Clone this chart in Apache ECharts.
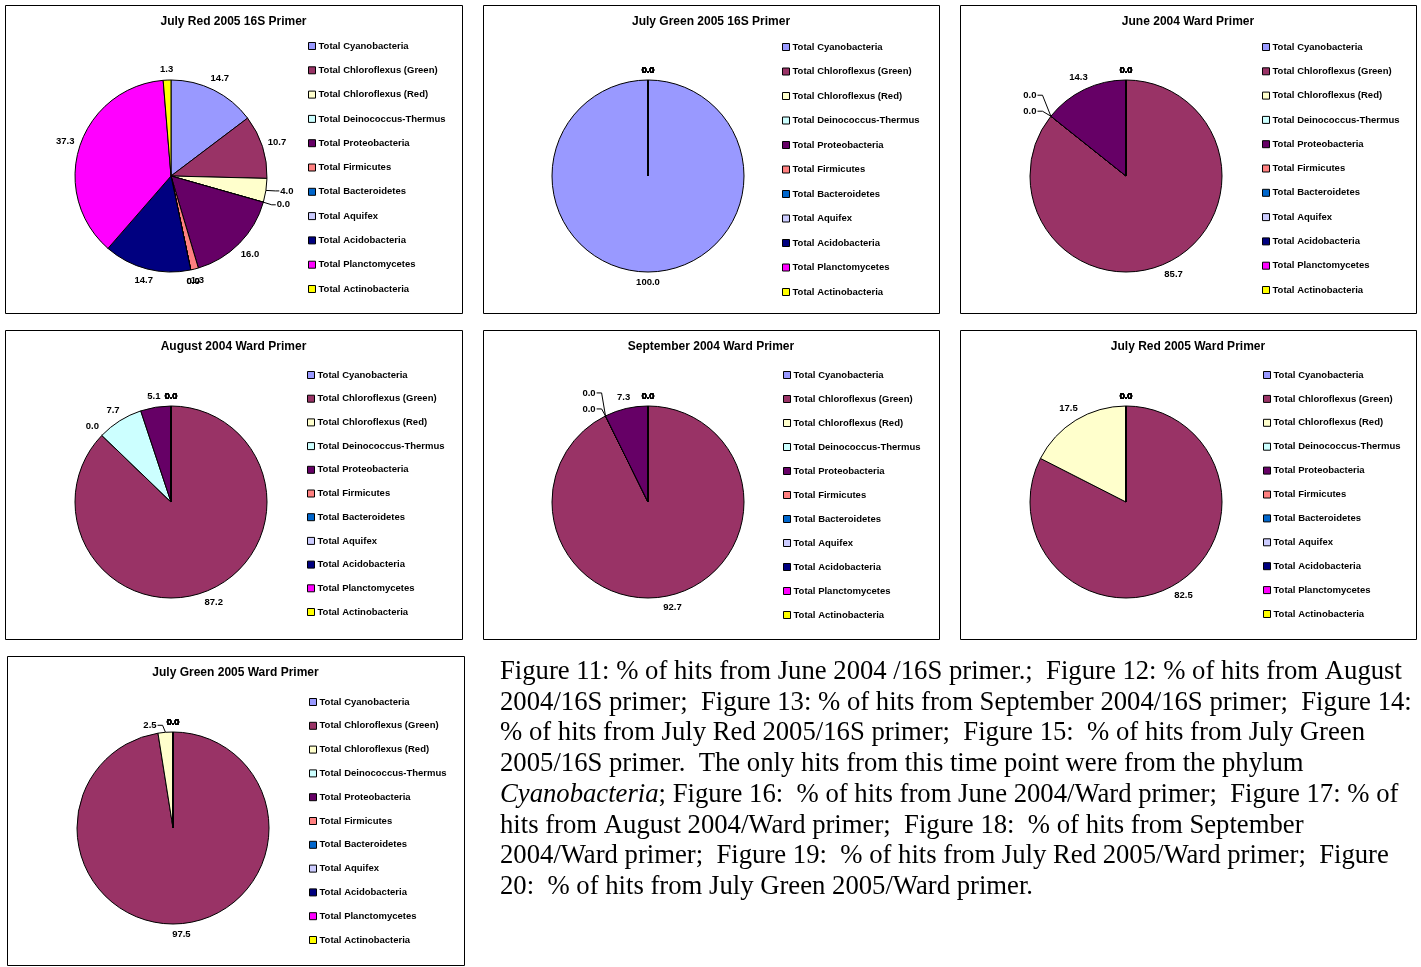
<!DOCTYPE html>
<html>
<head>
<meta charset="utf-8">
<script src="https://cdn.jsdelivr.net/npm/echarts@6/dist/echarts.min.js"></script>
<style>
  html, body { margin: 0; padding: 0; background: #ffffff; }
  #main { width: 1421px; height: 967px; }
</style>
</head>
<body>
<div id="main"></div>
<script>
// Phylum groups shown in every pie (legend order = slice order, clockwise from 12 o'clock)
const categories = [
  'Total Cyanobacteria',
  'Total Chloroflexus (Green)',
  'Total Chloroflexus (Red)',
  'Total Deinococcus-Thermus',
  'Total Proteobacteria',
  'Total Firmicutes',
  'Total Bacteroidetes',
  'Total Aquifex',
  'Total Acidobacteria',
  'Total Planctomycetes',
  'Total Actinobacteria'
];
const sliceColors = ['#9999FF', '#993366', '#FFFFCC', '#CCFFFF', '#660066', '#FF8080',
                     '#0066CC', '#CCCCFF', '#000080', '#FF00FF', '#FFFF00'];

// % of hits per phylum for each sample / primer
const julyRed16S        = [14.7, 10.7,  4.0, 0.0, 16.0, 1.3, 0.0, 0.0, 14.7, 37.3, 1.3];
const julyGreen16S      = [100.0, 0.0,  0.0, 0.0,  0.0, 0.0, 0.0, 0.0,  0.0,  0.0, 0.0];
const june2004Ward      = [0.0,  85.7,  0.0, 0.0, 14.3, 0.0, 0.0, 0.0,  0.0,  0.0, 0.0];
const august2004Ward    = [0.0,  87.2,  0.0, 7.7,  5.1, 0.0, 0.0, 0.0,  0.0,  0.0, 0.0];
const september2004Ward = [0.0,  92.7,  0.0, 0.0,  7.3, 0.0, 0.0, 0.0,  0.0,  0.0, 0.0];
const julyRed2005Ward   = [0.0,  82.5, 17.5, 0.0,  0.0, 0.0, 0.0, 0.0,  0.0,  0.0, 0.0];
const julyGreen2005Ward = [0.0,  97.5,  2.5, 0.0,  0.0, 0.0, 0.0, 0.0,  0.0,  0.0, 0.0];

const chartTitles = [
  'July Red 2005 16S Primer',
  'July Green 2005 16S Primer',
  'June 2004 Ward Primer',
  'August 2004 Ward Primer',
  'September 2004 Ward Primer',
  'July Red 2005 Ward Primer',
  'July Green 2005 Ward Primer'
];

const captionLines = [
  'Figure 11: % of hits from June 2004 /16S primer.;  Figure 12: % of hits from August',
  '2004/16S primer;  Figure 13: % of hits from September 2004/16S primer;  Figure 14:',
  '% of hits from July Red 2005/16S primer;  Figure 15:  % of hits from July Green',
  '2005/16S primer.  The only hits from this time point were from the phylum',
  '{i|Cyanobacteria}; Figure 16:  % of hits from June 2004/Ward primer;  Figure 17: % of',
  'hits from August 2004/Ward primer;  Figure 18:  % of hits from September',
  '2004/Ward primer;  Figure 19:  % of hits from July Red 2005/Ward primer;  Figure',
  '20:  % of hits from July Green 2005/Ward primer.'
];

// ---- layout of the seven framed panels ----
const RADIUS = 96;
const LABEL_GAP = 5;
const SANS = '"Liberation Sans", Arial, sans-serif';
const SERIF = '"Liberation Serif", "Times New Roman", serif';

const panels = [
  { values: julyRed16S,        box: [5, 5, 457, 308],   center: [171, 176], legend: [308, 41], step: 24.3,
    leaders: { 2: [21, 0.5], 3: [20, 2.6] } },
  { values: julyGreen16S,      box: [483, 5, 456, 308], center: [648, 176], legend: [782, 42], step: 24.5 },
  { values: june2004Ward,      box: [960, 5, 456, 308], center: [1126, 176], legend: [1262, 42], step: 24.3,
    leaders: { 2: [-21, -21], 3: [-21, -5] } },
  { values: august2004Ward,    box: [5, 330, 457, 309], center: [171, 502], legend: [307, 370], step: 23.7 },
  { values: september2004Ward, box: [483, 330, 456, 309], center: [648, 502], legend: [783, 370], step: 24.0,
    leaders: { 2: [-16.5, -23], 3: [-16.5, -7] } },
  { values: julyRed2005Ward,   box: [960, 330, 456, 309], center: [1126, 502], legend: [1263, 370], step: 23.9 },
  { values: julyGreen2005Ward, box: [7, 656, 457, 309], center: [173, 828], legend: [309, 697], step: 23.8,
    leaders: { 2: [-15.5, -7] } }
];

// Places each value label just outside the rim, at the middle angle of its slice;
// a few crowded labels are set aside and tied back to the rim with a leader line.
function makeLabelLayout(panel) {
  const vals = panel.values;
  const total = vals.reduce((a, b) => a + b, 0);
  const starts = [];
  let acc = 0;
  vals.forEach(v => { starts.push(acc); acc += v; });
  return function (params) {
    const i = params.dataIndex;
    const ang = (starts[i] + vals[i] / 2) / total * 2 * Math.PI;
    const dx = Math.sin(ang), dy = -Math.cos(ang);
    const cx = panel.center[0], cy = panel.center[1];
    const ex = cx + RADIUS * dx, ey = cy + RADIUS * dy;
    const w = params.labelRect.width, h = params.labelRect.height;
    const lead = panel.leaders && panel.leaders[i];
    if (lead) {
      const lx = ex + lead[0], ly = ey + lead[1];
      const onRight = lead[0] > 0;
      const ax = onRight ? lx - w / 2 - 1 : lx + w / 2 + 1;
      const bx = onRight ? ax - 4 : ax + 5;
      return { x: lx, y: ly, align: 'center', verticalAlign: 'middle',
               labelLinePoints: [[ex, ey], [bx, ly], [ax, ly]] };
    }
    const d = LABEL_GAP + Math.abs(dx) * w / 2 + Math.abs(dy) * h / 2;
    return { x: ex + d * dx, y: ey + d * dy, align: 'center', verticalAlign: 'middle' };
  };
}

const series = panels.map((p, k) => ({
  type: 'pie',
  name: chartTitles[k],
  center: p.center,
  radius: RADIUS,
  startAngle: 90,
  clockwise: true,
  avoidLabelOverlap: false,
  animation: false,
  silent: true,
  itemStyle: { borderColor: '#000000', borderWidth: 1 },
  label: {
    show: true,
    position: 'outside',
    formatter: prm => prm.value.toFixed(1),
    fontFamily: SANS,
    fontWeight: 'bold',
    fontSize: 9.5,
    color: '#000000'
  },
  labelLine: { show: false, lineStyle: { color: '#000000', width: 1 } },
  labelLayout: makeLabelLayout(p),
  emphasis: { disabled: true },
  data: categories.map((name, i) => ({
    name: name,
    value: p.values[i],
    itemStyle: { color: sliceColors[i] },
    labelLine: { show: !!(p.leaders && p.leaders[i]) }
  }))
}));

const legends = panels.map(p => ({
  orient: 'vertical',
  left: p.legend[0],
  top: p.legend[1],
  padding: 0,
  itemWidth: 7,
  itemHeight: 7,
  itemGap: p.step - 10,
  icon: 'rect',
  selectedMode: false,
  itemStyle: { borderColor: '#000000', borderWidth: 1 },
  textStyle: { fontFamily: SANS, fontWeight: 'bold', fontSize: 9.5, lineHeight: 10,
               color: '#000000', padding: [0, 0, 0, -2] },
  data: categories
}));

const graphics = [];
panels.forEach((p, k) => {
  const [x, y, w, h] = p.box;
  graphics.push({
    type: 'rect', silent: true,
    shape: { x: x + 0.5, y: y + 0.5, width: w, height: h },
    style: { fill: 'none', stroke: '#000000', lineWidth: 1 }
  });
  graphics.push({
    type: 'text', silent: true,
    x: x + w / 2, y: y + 17,
    style: { text: chartTitles[k], align: 'center', verticalAlign: 'middle',
             font: 'bold 12px ' + SANS, fill: '#000000' }
  });
});
captionLines.forEach((line, i) => {
  graphics.push({
    type: 'text', silent: true,
    x: 500, y: 672 + i * 30.7,
    style: {
      text: line, verticalAlign: 'middle',
      font: '26.7px ' + SERIF, fill: '#000000',
      rich: { i: { fontStyle: 'italic', fontSize: 26.7, fontFamily: SERIF, fill: '#000000' } }
    }
  });
});

const chart = echarts.init(document.getElementById('main'), null, { renderer: 'canvas' });
chart.setOption({
  backgroundColor: '#ffffff',
  animation: false,
  legend: legends,
  series: series,
  graphic: graphics
});
</script>
</body>
</html>
